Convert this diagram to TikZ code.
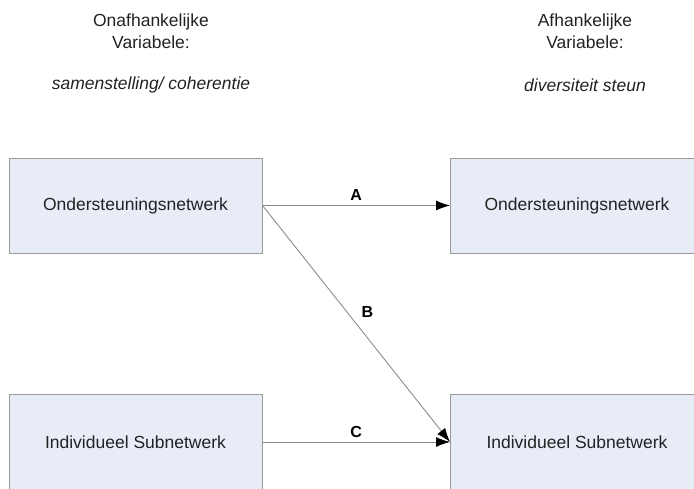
\documentclass[tikz,border=0pt]{standalone}
\usepackage{fontspec}
\setmainfont{Liberation Sans}
\usetikzlibrary{arrows.meta}
\definecolor{boxfill}{HTML}{E8ECF7}
\definecolor{boxline}{HTML}{9A9A9A}
\definecolor{linegray}{HTML}{8C8C8C}
\definecolor{txt}{HTML}{222222}
\tikzset{
  netbox/.style={draw=boxline, fill=boxfill, line width=1pt,
    minimum width=253pt, minimum height=95pt, inner sep=0pt,
    text=txt, font=\fontsize{17.5}{21}\selectfont},
  head/.style={align=center, text=txt, font=\fontsize{17.5}{22}\selectfont},
  link/.style={->, draw=linegray, line width=0.9pt},
  linklabel/.style={text=black, font=\fontsize{16}{19}\selectfont\bfseries}
}
\begin{document}
\begin{tikzpicture}[>={Latex[length=14pt,width=10pt,black]}]
\clip (0pt, 0pt) rectangle (694pt, -488pt);
%%headers
\node[head] (onafh) at (151pt, -31pt) {Onafhankelijke\\Variabele:};
\node[head, font=\fontsize{17.5}{22}\selectfont\itshape] (samen) at (151pt, -85pt) {samenstelling/ coherentie};
\node[head] (afh) at (585pt, -31pt) {Afhankelijke\\Variabele:};
\node[head, font=\fontsize{17.5}{22}\selectfont\itshape] (divers) at (585pt, -85pt) {diversiteit steun};
%%boxes
\node[netbox] (ondL) at (135.5pt, -205.5pt) {Ondersteuningsnetwerk};
\node[netbox] (ondR) at (577pt, -205.5pt) {Ondersteuningsnetwerk};
\node[netbox] (indL) at (135.5pt, -442pt) {Individueel Subnetwerk};
\node[netbox] (indR) at (577pt, -442pt) {Individueel Subnetwerk};
%%links
\draw[link] (ondL.east) -- (ondR.west)
     node[linklabel, midway, above=1pt] (labA) {A};
\draw[link] (ondL.east) -- (indR.west)
     node[linklabel, pos=0.45, right=11pt] (labB) {B};
\draw[link] (indL.east) -- (indR.west)
     node[linklabel, midway, above=1pt] (labC) {C};
\end{tikzpicture}
\end{document}
